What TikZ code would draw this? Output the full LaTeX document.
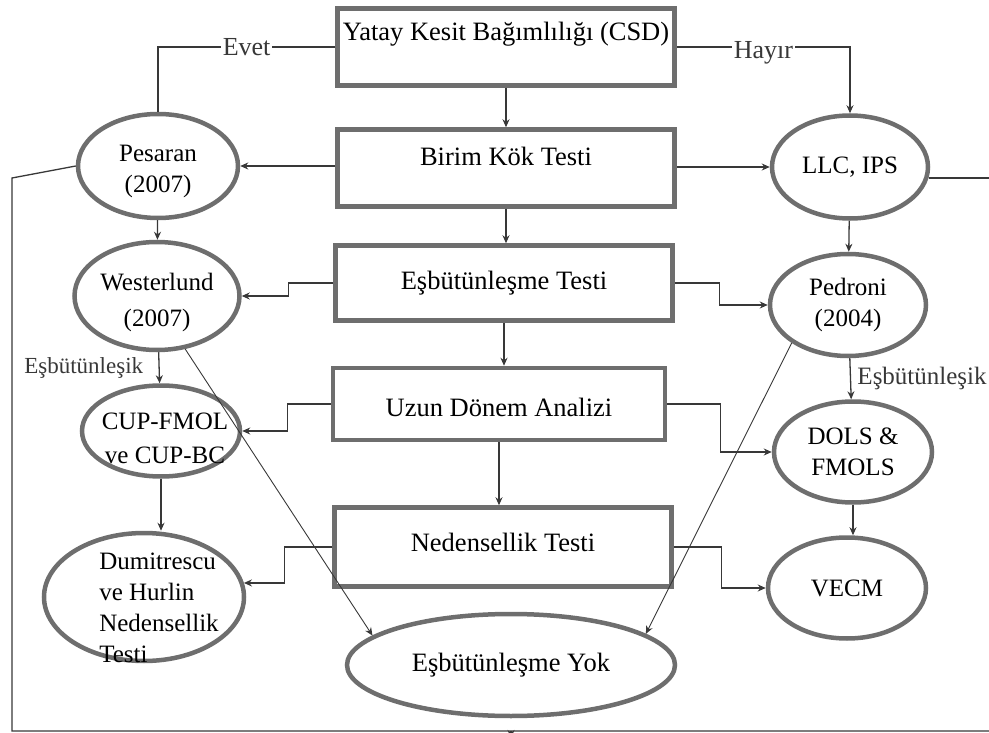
\documentclass[tikz,border=0pt]{standalone}
\usepackage{fontspec}
\setmainfont{Liberation Serif}
\usetikzlibrary{arrows.meta,shapes.geometric}
\definecolor{frame}{HTML}{6E6E6E}
\definecolor{linegray}{HTML}{383838}
\newcommand{\nudge}[3]{\smash{\makebox[0pt]{\hspace*{#1}\raisebox{#2}{#3}}}}
\tikzset{>={Stealth[length=8pt,width=7pt]},stepbox/.style={draw=frame,line width=4.5pt,minimum width=337pt,inner sep=0pt,text height=40pt,text depth=37pt,font=\fontsize{26.5}{30}\selectfont},test/.style={ellipse,draw=frame,line width=4.5pt,inner sep=0pt,align=center,font=\fontsize{25}{31}\selectfont},conn/.style={linegray,line width=1.3pt},arr/.style={conn,->},thinarr/.style={->,linegray,line width=0.9pt},tag/.style={fill=white,inner sep=2pt,font=\fontsize{26}{28}\selectfont}}

\begin{document}
\begin{tikzpicture}[x=1pt,y=-1pt]
\useasboundingbox (0,0) rectangle (989,733);
% main chain
\node[stepbox,text height=32pt,text depth=45pt] (csd) at (506,47) {Yatay Kesit Bağımlılığı (CSD)};
\node[stepbox,text height=36pt,text depth=41pt] (birim) at (506,168) {Birim Kök Testi};
\node[stepbox,text height=44pt,text depth=31pt] (esb) at (504,283) {Eşbütünleşme Testi};
\node[stepbox,minimum width=332pt,text height=48pt,text depth=24pt] (uzun) at (499,404) {Uzun Dönem Analizi};
\node[stepbox,text height=44pt,text depth=35pt] (neden) at (503,547) {Nedensellik Testi};
% tests
\node[test,minimum width=160pt,minimum height=104pt] (pesaran) at (158,166) {\nudge{0pt}{-11pt}{\begin{tabular}{@{}c@{}}Pesaran\\(2007)\end{tabular}}};
\node[test,minimum width=156pt,minimum height=103pt] (llc) at (850,167) {LLC, IPS};
\node[test,minimum width=165pt,minimum height=108pt,font=\fontsize{25}{36}\selectfont] (wester) at (157,296) {\nudge{0pt}{-12pt}{\begin{tabular}{@{}c@{}}Westerlund\\(2007)\end{tabular}}};
\node[test,minimum width=156pt,minimum height=102pt] (pedroni) at (848,305) {Pedroni\\(2004)};
\node[test,minimum width=158pt,minimum height=91pt,font=\fontsize{25}{34}\selectfont] (cup) at (161,431) {\nudge{8pt}{-15pt}{\begin{tabular}{@{}c@{}}CUP-FMOL\\ve CUP-BC\end{tabular}}};
\node[test,minimum width=158pt,minimum height=101pt] (dols) at (853,452) {DOLS \&\\FMOLS};
\node[test,minimum width=200pt,minimum height=128pt] (dumi) at (144,597) {\nudge{30pt}{-19pt}{\begin{tabular}{@{}l@{}}Dumitrescu\\ve Hurlin\\Nedensellik\\Testi\end{tabular}}};
\node[test,minimum width=158pt,minimum height=101pt] (vecm) at (847,588) {VECM};
\node[test,minimum width=328pt,minimum height=102pt,font=\fontsize{26.5}{30}\selectfont] (yok) at (511,665) {Eşbütünleşme Yok};
\coordinate (bend) at (12,731);
\coordinate (rim) at (989,731);
% connectors
\draw[conn] (csd.west) -- node[tag]{Evet} (pesaran.north |- csd.west) -- (pesaran.north);
\draw[arr] (csd.east) -- node[tag,yshift=-6pt]{Hayır} (llc.north |- csd.east) -- (llc.north);
\draw[arr] (csd) -- (birim);
\draw[arr] (birim.west |- pesaran.east) -- (pesaran.east);
\draw[arr] (birim.east |- llc.west) -- (llc.west);
\draw[arr] (birim.south) -- (birim.south |- esb.north);
\draw[arr] (pesaran) -- (wester);
\draw[arr] (llc) -- (pedroni);
\draw[arr] (esb.west) -- ++(-45,0) |- (wester.east);
\draw[arr] (esb.east) -- ++(45,0) |- (pedroni.west);
\draw[arr] (esb.south) -- (esb.south |- uzun.north);
\draw[arr] (wester) -- node[left=12pt,font=\fontsize{23}{26}\selectfont]{Eşbütünleşik} (cup);
\draw[arr] (pedroni) -- node[right=3pt,font=\fontsize{25}{28}\selectfont]{Eşbütünleşik} (dols);
\draw[arr] (uzun.west) -- ++(-43,0) |- (cup.east);
\draw[arr] (uzun.east) -- ++(53,0) |- (dols.west);
\draw[arr] (uzun.south) -- (uzun.south |- neden.north);
\draw[arr] (cup.south) -- (cup.south |- dumi.north);
\draw[arr] (dols.south) -- (dols.south |- vecm.north);
\draw[arr] (neden.west) -- ++(-48,0) |- (dumi.8);
\draw[arr] (neden.east) -- ++(48,0) |- (vecm.west);
\draw[thinarr] (wester.-62) -- (yok.168);
\draw[thinarr] (pedroni.214) -- (yok.13);
% outer return lines
\draw[conn] (pesaran.west) -- (bend |- 0,178) -- (bend) -- (rim);
\draw[conn] (llc.-8) -- ++(70,0);
\draw[arr] (yok.south |- bend) -- ++(0,7);
\end{tikzpicture}
\end{document}
